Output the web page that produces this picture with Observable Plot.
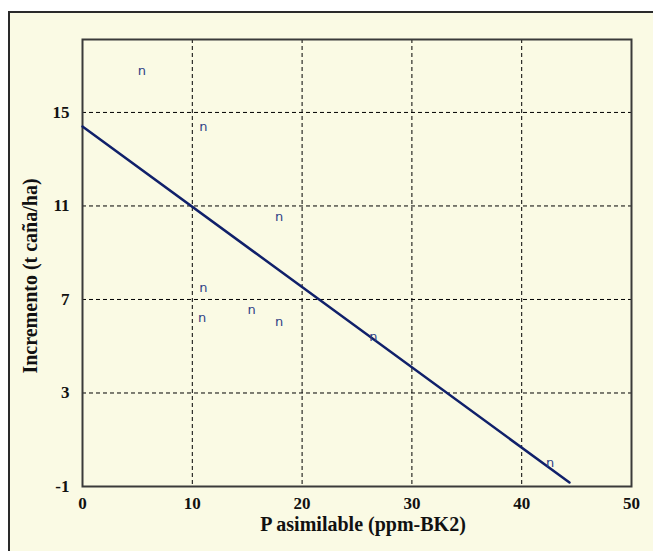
<!DOCTYPE html>
<html>
<head>
<meta charset="utf-8">
<script src="https://cdn.jsdelivr.net/npm/d3@7"></script>
<script src="https://cdn.jsdelivr.net/npm/@observablehq/plot@0.6"></script>
<style>
  html, body { margin: 0; padding: 0; background: #ffffff; }
  #wrap { position: relative; width: 653px; height: 551px; overflow: hidden; background: #ffffff; }
  #panel { position: absolute; left: 8px; top: 11px; width: 700px; height: 600px;
           border: 2px solid #2a2a2a; background: #FAFAE4; box-sizing: border-box; }
  #chart { position: absolute; left: 0; top: 0; }
  #chart svg { background: transparent; }
</style>
</head>
<body>
<div id="wrap"><div id="panel"></div><div id="chart"></div></div>
<script>
// Data
const pAsimilable = [5.4, 11.0, 17.9, 11.0, 15.4, 10.9, 17.9, 26.5, 42.6];
const incremento  = [16.8, 14.4, 10.55, 7.5, 6.57, 6.23, 6.05, 5.42, 0.01];
// Regression line endpoints (as drawn)
const trendX = [0, 44.35];
const trendY = [14.4, -0.83];
// Axis ticks
const xTicks = [0, 10, 20, 30, 40, 50];
const yTicks = [-1, 3, 7, 11, 15];
const xLabel = "P asimilable (ppm-BK2)";
const yLabel = "Incremento (t caña/ha)";

const points = pAsimilable.map((x, i) => ({x, y: incremento[i]}));
const trend = trendX.map((x, i) => ({x, y: trendY[i]}));

const tickFont = "Liberation Serif, Times New Roman, serif";

const chart = Plot.plot({
  width: 653,
  height: 551,
  marginLeft: 82,
  marginRight: 22,
  marginTop: 39,
  marginBottom: 65,
  style: {background: "transparent", fontFamily: tickFont, overflow: "visible"},
  x: {domain: [0, 50], ticks: xTicks},
  y: {domain: [-1, 18.12], ticks: yTicks},
  marks: [
    Plot.gridX(xTicks.filter(d => d > 0 && d < 50), {stroke: "#000", strokeOpacity: 1, strokeDasharray: "4,3", strokeWidth: 1}),
    Plot.gridY(yTicks.filter(d => d > -1), {stroke: "#000", strokeOpacity: 1, strokeDasharray: "4,3", strokeWidth: 1}),
    Plot.frame({stroke: "#3a3a3a", strokeWidth: 2}),
    Plot.axisX({ticks: xTicks, tickFormat: d => `${d}`, tickSize: 0, tickPadding: 10, fontSize: 17, fontWeight: "bold", label: null, fill: "#111"}),
    Plot.axisY({ticks: yTicks, tickFormat: d => `${d}`, tickSize: 0, tickPadding: 13, fontSize: 17, fontWeight: "bold", label: null, fill: "#111"}),
    Plot.line(trend, {x: "x", y: "y", stroke: "#10206A", strokeWidth: 2.5}),
    Plot.text(points, {x: "x", y: "y", text: () => "n", fill: "#2F3F86", fontSize: 13, fontFamily: "DejaVu Sans, sans-serif"}),
    Plot.text([xLabel], {frameAnchor: "bottom", text: d => d, dy: 38, dx: 6, textAnchor: "middle", lineAnchor: "middle", fontSize: 20, fontWeight: "bold", fontFamily: tickFont, fill: "#111"}),
    Plot.text([yLabel], {frameAnchor: "left", text: d => d, dx: -52, dy: 13, rotate: -90, textAnchor: "middle", lineAnchor: "middle", fontSize: 20, fontWeight: "bold", fontFamily: tickFont, fill: "#111"})
  ]
});
document.getElementById("chart").appendChild(chart);
</script>
</body>
</html>
